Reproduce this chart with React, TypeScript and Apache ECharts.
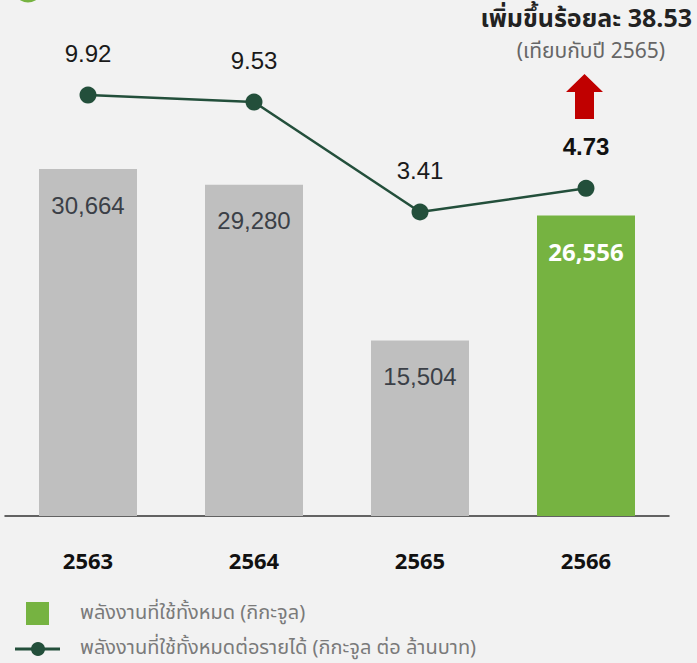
import React, { useEffect, useRef } from "react";
import * as echarts from "echarts";

const categories = ["2563", "2564", "2565", "2566"];
const energyTotal = [30664, 29280, 15504, 26556];
const energyPerRevenue = [9.92, 9.53, 3.41, 4.73];
const legendNames = [
  "พลังงานที่ใช้ทั้งหมด (กิกะจูล)",
  "พลังงานที่ใช้ทั้งหมดต่อรายได้ (กิกะจูล ต่อ ล้านบาท)",
];
const increaseTitle = "เพิ่มขึ้นร้อยละ 38.53";
const increaseNote = "(เทียบกับปี 2565)";

const THAI = '"Noto Sans Thai", "Noto Sans", "Liberation Sans", sans-serif';
const NUM = '"Liberation Sans", Arial, sans-serif';

export default function App() {
  const ref = useRef<HTMLDivElement>(null);
  useEffect(() => {
    document.body.style.margin = "0";
    const chart = echarts.init(ref.current!, null, { renderer: "svg" });
    const lastIdx = categories.length - 1;
    chart.setOption({
      animation: false,
      backgroundColor: "#f2f2f2",
      grid: { left: 5, top: 0, width: 664, height: 516, containLabel: false },
      xAxis: {
        type: "category",
        data: categories,
        axisLine: { show: true, lineStyle: { color: "#333", width: 1.5 } },
        axisTick: { show: false },
        axisLabel: {
          margin: 33,
          fontSize: 22,
          fontWeight: "bold",
          color: "#111",
          fontFamily: '"Noto Sans", "Open Sans", sans-serif',
        },
      },
      yAxis: [
        { type: "value", min: 0, max: 45600, show: false },
        { type: "value", min: -13.51, max: 15.21, show: false },
      ],
      series: [
        {
          name: legendNames[0],
          type: "bar",
          barWidth: 98,
          data: energyTotal.map((v, i) => ({
            value: v,
            itemStyle: { color: i === lastIdx ? "#76b341" : "#bfbfbf" },
            label:
              i === lastIdx
                ? { color: "#ffffff", fontWeight: "bold", fontFamily: '"Open Sans", "Noto Sans", sans-serif' }
                : {},
          })),
          label: {
            show: true,
            position: "insideTop",
            distance: 24,
            fontSize: 24,
            color: "#3b3f47",
            fontFamily: NUM,
            formatter: (p: any) => Number(p.value).toLocaleString("en-US"),
          },
        },
        {
          name: legendNames[1],
          type: "line",
          yAxisIndex: 1,
          symbol: "circle",
          symbolSize: 17,
          itemStyle: { color: "#234f3b" },
          lineStyle: { color: "#234f3b", width: 2.5 },
          data: energyPerRevenue.map((v, i) => ({
            value: v,
            label: i === lastIdx ? { fontWeight: "bold", color: "#111" } : {},
          })),
          label: {
            show: true,
            position: "top",
            distance: 21,
            fontSize: 24,
            color: "#1a1a1a",
            fontFamily: NUM,
            formatter: (p: any) => Number(p.value).toFixed(2),
          },
          z: 5,
        },
      ],
      graphic: [
        { type: "circle", shape: { cx: 28, cy: -12, r: 14.5 }, style: { fill: "#76b341" } },
        {
          type: "text",
          right: 5,
          top: 6,
          style: {
            text: increaseTitle,
            font: `bold 25px ${THAI}`,
            fill: "#222",
            textAlign: "right",
          },
        },
        {
          type: "text",
          right: 32,
          top: 41,
          style: {
            text: increaseNote,
            font: `21px ${THAI}`,
            fill: "#666",
            textAlign: "right",
          },
        },
        {
          type: "polygon",
          shape: {
            points: [
              [584.5, 74],
              [603, 92],
              [594, 92],
              [594, 119],
              [575, 119],
              [575, 92],
              [566, 92],
            ],
          },
          style: { fill: "#c00000" },
        },
        { type: "rect", shape: { x: 26, y: 602, width: 23, height: 23 }, style: { fill: "#76b341" } },
        {
          type: "text",
          x: 80,
          y: 613,
          style: { text: legendNames[0], font: `20px ${THAI}`, lineHeight: 20, fill: "#7a7a7a", textVerticalAlign: "middle" },
        },
        { type: "line", shape: { x1: 15, y1: 649, x2: 60, y2: 649 }, style: { stroke: "#234f3b", lineWidth: 3 } },
        { type: "circle", shape: { cx: 38, cy: 649, r: 7 }, style: { fill: "#234f3b" } },
        {
          type: "text",
          x: 80,
          y: 648,
          style: { text: legendNames[1], font: `20px ${THAI}`, lineHeight: 20, fill: "#7a7a7a", textVerticalAlign: "middle" },
        },
      ],
    });
    return () => chart.dispose();
  }, []);
  return <div ref={ref} style={{ position: "absolute", left: 0, top: 0, width: 697, height: 663 }} />;
}
